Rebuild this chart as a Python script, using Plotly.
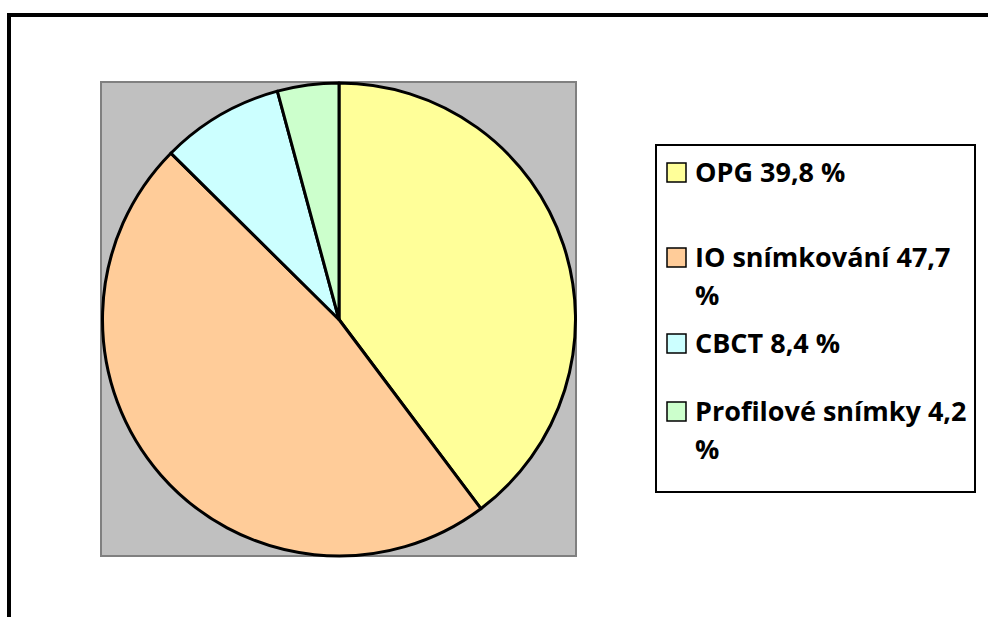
import plotly.graph_objects as go

# ---- data ----
categories = ["OPG", "IO snímkování", "CBCT", "Profilové snímky"]
shares = [39.8, 47.7, 8.4, 4.2]
value_labels = ["39,8 %", "47,7 %", "8,4 %", "4,2 %"]
slice_colors = ["#FFFF99", "#FFCC99", "#CCFFFF", "#CCFFCC"]

# ---- layout helpers (pixel -> paper) ----
W, H = 988, 617
def px(x):
    return x / W
def py(y):
    return 1 - y / H

fig = go.Figure()
fig.add_trace(go.Pie(
    labels=categories,
    values=shares,
    sort=False,
    direction="clockwise",
    rotation=0,
    marker=dict(colors=slice_colors, line=dict(color="black", width=3)),
    textinfo="none",
    showlegend=False,
    domain=dict(x=[px(102), px(576)], y=[py(556), py(83)]),
))

shapes = [
    # outer chart frame (extends beyond the visible page)
    dict(type="rect", xref="paper", yref="paper", x0=px(9), y0=py(15), x1=px(1010), y1=py(640),
         line=dict(color="black", width=4), fillcolor="rgba(0,0,0,0)", layer="below"),
    # plot area
    dict(type="rect", xref="paper", yref="paper", x0=px(101), y0=py(82), x1=px(576), y1=py(556),
         line=dict(color="#808080", width=2), fillcolor="#C0C0C0", layer="below"),
    # legend box
    dict(type="rect", xref="paper", yref="paper", x0=px(656), y0=py(145), x1=px(975), y1=py(492),
         line=dict(color="black", width=2), fillcolor="white", layer="above"),
]

annotations = []
row_baselines = [182, 267, 353, 421]
line_gap = 37.5
font_size = 27
for cat, lab, col, base in zip(categories, value_labels, slice_colors, row_baselines):
    text = f"{cat} {lab}"
    lines = [text] if len(text) <= 15 else [text.rsplit(" ", 1)[0], text.rsplit(" ", 1)[1]]
    shapes.append(dict(type="rect", xref="paper", yref="paper",
                       x0=px(667), y0=py(base - 19), x1=px(686), y1=py(base),
                       line=dict(color="black", width=1.5), fillcolor=col, layer="above"))
    for i, ln in enumerate(lines):
        b = base + i * line_gap
        annotations.append(dict(
            x=px(693), y=py(b - 31), xref="paper", yref="paper",
            xanchor="left", yanchor="top", align="left", showarrow=False,
            text=f"<b>{ln}</b>",
            font=dict(family="Open Sans", size=font_size, color="black"),
        ))

fig.update_layout(
    width=W, height=H,
    margin=dict(l=0, r=0, t=0, b=0),
    paper_bgcolor="white",
    plot_bgcolor="white",
    shapes=shapes,
    annotations=annotations,
    showlegend=False,
)

fig.write_html("out.html")
